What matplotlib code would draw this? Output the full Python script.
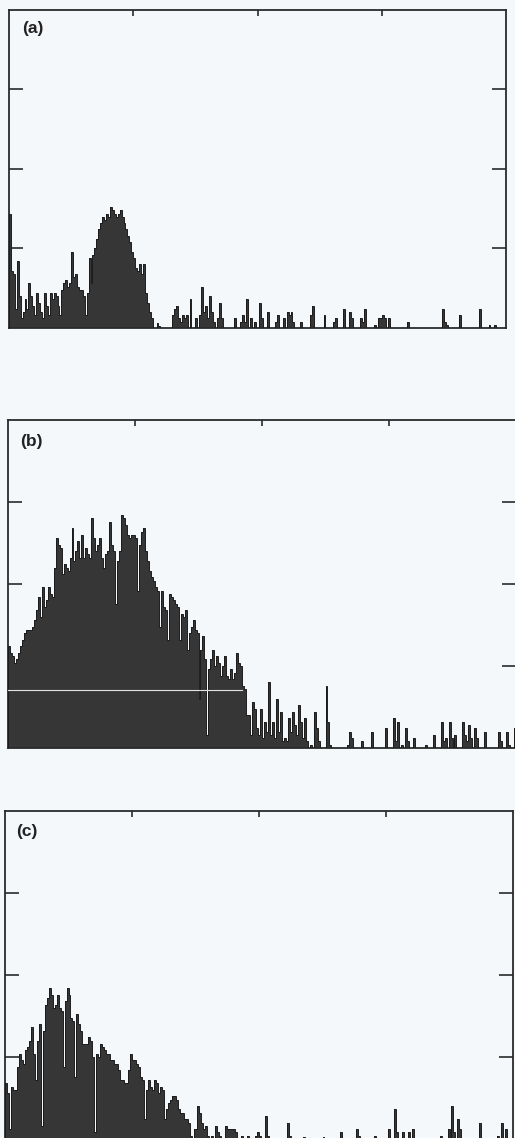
import numpy as np
import matplotlib
matplotlib.use("Agg")
import matplotlib.pyplot as plt

# ---------------- data (histogram counts, 256 bins, y scale 0-100) ----------------
n_bins = 256
panel_labels = ["(a)", "(b)", "(c)"]

# panel (a): dense body (bins 0..77) + sparse tail
a_body = [36, 18, 17, 6, 21, 10, 3, 5, 9, 6, 14, 10, 7, 4, 11, 8, 5, 3, 11, 7,
          4, 11, 9, 11, 10, 7, 4, 12, 14, 15, 13, 14, 24, 16, 17, 13, 12, 12, 10, 4,
          11, 22, 14, 23, 25, 28, 31, 33, 35, 34, 36, 35, 38, 37, 36, 35, 36, 37, 35, 33,
          31, 29, 27, 24, 22, 19, 18, 20, 17, 20, 11, 8, 5, 3, 0, 0, 1.5, 0.5]
a_tail_bins = [84, 85, 86, 87, 88, 89, 90, 91, 93, 96, 98, 99, 100, 101, 102, 103, 104, 105,
               107, 108, 109, 116, 119, 120, 121, 122, 124, 126, 129, 130, 133, 137, 138,
               141, 143, 144, 145, 146, 150, 155, 156, 162, 167, 168, 172, 175, 176, 181,
               182, 183, 188, 190, 191, 192, 193, 195, 205, 223, 224, 225, 232, 242, 247, 250]
a_tail_vals = [4, 6, 7, 3, 2, 4, 3, 4, 9, 3, 4, 13, 5, 7, 3, 10, 5, 2,
               3, 8, 3, 3, 2, 4, 2, 9, 3, 2, 8, 3, 5, 2, 4,
               3, 5, 4, 5, 2, 2, 4, 7, 4, 2, 3, 6, 5, 3, 3,
               2, 6, 1, 3, 3, 4, 3, 3, 2, 6, 2, 1, 4, 6, 1, 1]

# panel (b): dense body (bins 0..124) + sparse tail
b_body = [31, 29, 28, 26, 27, 29, 31, 33, 35, 36, 36, 36, 37, 39, 42, 46, 40, 49, 43, 45,
          49, 47, 46, 55, 64, 62, 61, 53, 56, 55, 54, 58, 67, 57, 60, 63, 58, 65, 58, 61,
          59, 58, 70, 64, 60, 62, 64, 58, 55, 59, 60, 69, 62, 60, 44, 57, 60, 71, 70, 68,
          65, 64, 65, 65, 64, 48, 62, 66, 67, 60, 57, 54, 52, 51, 49, 48, 37, 48, 43, 42,
          33, 47, 46, 45, 44, 43, 33, 41, 40, 42, 30, 35, 37, 39, 36, 35, 15, 30, 34, 27,
          4, 24, 27, 30, 25, 28, 26, 22, 25, 28, 22, 21, 24, 21, 23, 29, 26, 25, 19, 18,
          10, 10, 4, 14, 12]
b_tail_bins = [125, 126, 127, 128, 129, 130, 131, 132, 133, 134, 135, 136, 137, 138, 139, 140,
               141, 142, 143, 144, 145, 146, 147, 148, 149, 150, 152, 154, 155, 156, 160, 161,
               162, 171, 172, 173, 178, 183, 190, 194, 195, 196, 198, 200, 201, 204, 210,
               214, 218, 219, 220, 222, 223, 225, 229, 230, 231, 232, 233, 235, 236, 240,
               247, 248, 251, 252, 255]
b_tail_vals = [6, 4, 12, 3, 8, 5, 20, 4, 8, 3, 15, 5, 11, 2, 3, 2,
               9, 5, 11, 7, 4, 13, 8, 3, 9, 2, 1, 11, 6, 2, 19, 8,
               1, 1, 5, 3, 2, 5, 6, 9, 2, 8, 1, 6, 2, 3, 1,
               4, 8, 2, 3, 8, 3, 4, 8, 4, 2, 7, 3, 6, 3, 5,
               5, 2, 5, 1, 6]

# panel (c): dense body (bins 0..101) + sparse tail
c_body = [17, 14, 3, 16, 15, 15, 22, 26, 24, 23, 27, 28, 30, 34, 26, 18, 30, 35, 4, 33,
          41, 43, 46, 44, 40, 41, 44, 40, 39, 22, 42, 46, 44, 37, 36, 19, 38, 35, 33, 29,
          29, 29, 31, 30, 25, 2, 26, 25, 29, 28, 27, 26, 26, 24, 24, 23, 23, 21, 18, 18,
          17, 17, 21, 26, 24, 24, 23, 22, 19, 18, 6, 15, 18, 16, 15, 18, 17, 14, 16, 15,
          6, 9, 11, 12, 13, 13, 12, 9, 8, 8, 6, 6, 5, 1, 0, 3, 3, 10, 8, 5,
          3, 4]
c_tail_bins = [102, 104, 106, 107, 108, 111, 112, 113, 114, 115, 116, 119, 122, 126, 127, 128,
               131, 132, 142, 143, 150, 160, 169, 177, 178, 186, 193, 196, 197, 200, 203,
               205, 219, 223, 225, 226, 228, 229, 239, 248, 250, 252]
c_tail_vals = [1, 1, 4, 2, 1, 4, 3, 3, 3, 3, 2, 1, 1, 1, 2, 1,
               7, 1, 5, 1, 0.5, 0.5, 2, 3, 1, 1, 3, 9, 2, 2, 2,
               3, 1, 3, 10, 2, 6, 3, 5, 1, 5, 3]

x_ticks = [64, 128, 192]
y_ticks = [25, 50, 75]


def assemble(body, tail_bins, tail_vals):
    vals = np.zeros(n_bins)
    vals[:len(body)] = body
    for b, v in zip(tail_bins, tail_vals):
        vals[b] = v
    return vals


series = [assemble(a_body, a_tail_bins, a_tail_vals),
          assemble(b_body, b_tail_bins, b_tail_vals),
          assemble(c_body, c_tail_bins, c_tail_vals)]

# ---------------- figure ----------------
W, H = 515, 1138
bg = "#f5f8fb"
fig = plt.figure(figsize=(W / 100, H / 100), dpi=100, facecolor=bg)

# axes rectangles in pixels: left, top, right, bottom
rects_px = [(9, 10, 506, 328), (8, 420, 516, 748), (5, 811, 513, 1139)]
label_pos = [(0.027, 0.943), (0.023, 0.933), (0.021, 0.939)]

edges = np.arange(n_bins + 1)
for vals, (l, t, r, b), lab, lp in zip(series, rects_px, panel_labels, label_pos):
    ax = fig.add_axes([l / W, 1 - b / H, (r - l) / W, (b - t) / H])
    ax.set_facecolor(bg)
    ax.stairs(vals, edges, fill=True, color="#363636", zorder=2)
    ax.stairs(vals, edges, color="#1c1c1c", lw=0.7, zorder=3)
    ax.set_xlim(0, n_bins)
    ax.set_ylim(0, 100)
    ax.set_xticks(x_ticks)
    ax.set_yticks(y_ticks)
    ax.tick_params(axis="x", direction="in", top=True, bottom=False, length=4.5,
                   width=1.2, color="#2a2a2a", labelbottom=False, labeltop=False)
    ax.tick_params(axis="y", direction="in", left=True, right=True, length=10,
                   width=1.2, color="#2a2a2a", labelleft=False, labelright=False)
    for s in ax.spines.values():
        s.set_color("#2a2a2a")
        s.set_linewidth(1.3)
    ax.text(lp[0], lp[1], lab, transform=ax.transAxes, ha="left", va="center",
            fontsize=12.5, fontweight="bold", family=["Liberation Sans", "DejaVu Sans"],
            color="#222222")
    if lab == "(b)":
        ax.plot([0, 118], [17.7, 17.7], color="#dfe3e6", lw=0.8, zorder=4)

fig.savefig("out.png", dpi=100, facecolor=bg)
